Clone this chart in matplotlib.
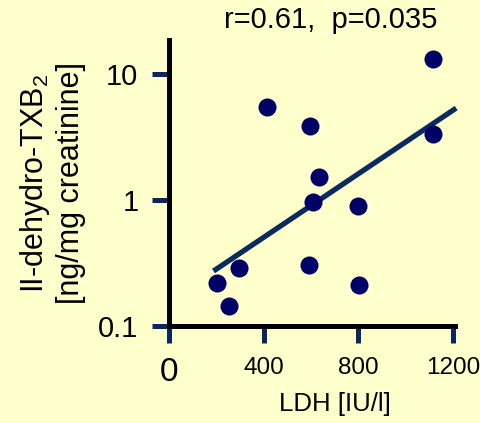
import numpy as np
import matplotlib
matplotlib.use('Agg')
import matplotlib.pyplot as plt

#%% Data
ldh = [1114, 413, 594, 1117, 633, 608, 799, 295, 592, 202, 801, 255]
txb = [13.1, 5.45, 3.88, 3.31, 1.51, 0.96, 0.90, 0.288, 0.305, 0.218, 0.213, 0.145]

# regression line end points
fit_x = [188, 1213]
fit_y = [0.273, 5.36]

x_ticks = [0, 400, 800, 1200]
y_ticks = [0.1, 1, 10]
y_ticklabels = ['0.1', '1', '10']

title_text = 'r=0.61,  p=0.035'
x_label = 'LDH [IU/l]'
y_label = 'II-dehydro-TXB$_2$\n[ng/mg creatinine]'

#%% Style
bg = '#FFFFCC'
dot_col = '#000066'
line_col = '#0B2A5E'
tick_col = '#0B2560'

plt.rcParams['font.family'] = ['Liberation Sans', 'DejaVu Sans']
plt.rcParams['mathtext.fontset'] = 'custom'
plt.rcParams['mathtext.rm'] = 'Liberation Sans'
plt.rcParams['mathtext.it'] = 'Liberation Sans'

#%% Plot
fig = plt.figure(figsize=(4.81, 4.23), dpi=100, facecolor=bg)
ax = fig.add_axes([169/481, 1 - 326/423, (455 - 169)/481, (326 - 40)/423])
ax.set_facecolor(bg)

ax.plot(fit_x, fit_y, color=line_col, lw=3.8, solid_capstyle='butt', clip_on=False, zorder=2)
ax.plot(ldh, txb, 'o', color=dot_col, ms=13, mec='none', clip_on=False, zorder=3)

ax.set_yscale('log')
ax.set_xlim(0, 1208)
ax.set_ylim(0.1, 18.6)

ax.set_xticks(x_ticks)
ax.set_xticklabels([str(v) for v in x_ticks])
ax.set_yticks(y_ticks)
ax.set_yticklabels(y_ticklabels)
ax.yaxis.set_minor_locator(matplotlib.ticker.NullLocator())

for s in ['top', 'right']:
    ax.spines[s].set_visible(False)
for s in ['left', 'bottom']:
    ax.spines[s].set_linewidth(3.6)
    ax.spines[s].set_color('black')

ax.tick_params(axis='both', which='major', direction='out', length=12,
               width=3.6, color=tick_col)
ax.tick_params(axis='x', pad=10, labelsize=17.5)
ax.tick_params(axis='y', pad=10, labelsize=21)

# the zero label is drawn bigger in the original
ax.get_xticklabels()[0].set_fontsize(24)

fig.text(331/481, 1 - 20/423, title_text, fontsize=21, ha='center', va='center')
fig.text(335/481, 1 - 404/423, x_label, fontsize=18.5, ha='center', va='center')
fig.text(52/481, 1 - 183/423, y_label, fontsize=22, rotation=90,
         ha='center', va='center', multialignment='center', linespacing=1.15)

fig.savefig('out.png', dpi=100, facecolor=bg)
